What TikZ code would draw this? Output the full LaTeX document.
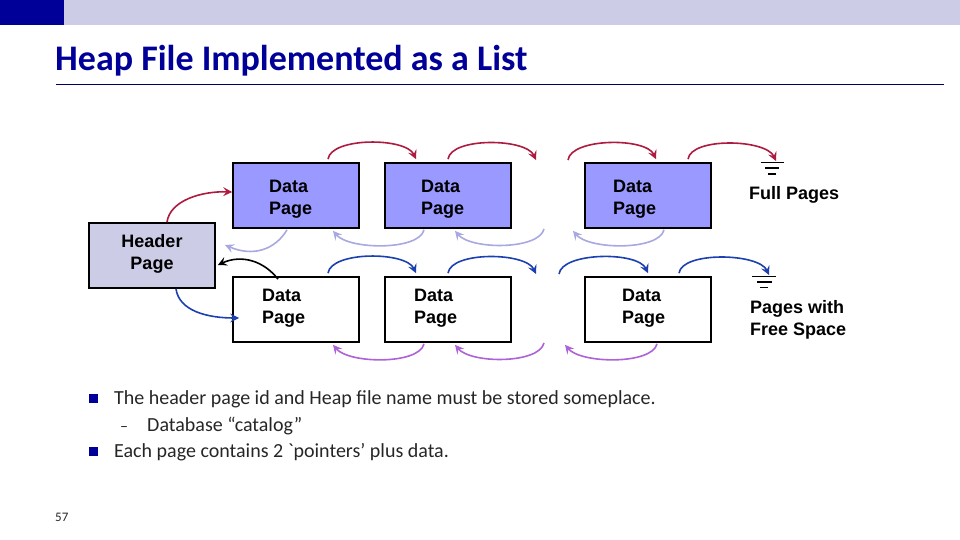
\documentclass[tikz,border=0pt]{standalone}
\usepackage{fontspec}
\setmainfont{Carlito}
\newfontfamily\plainfont{Carlito}
\newfontfamily\arialfont{Liberation Sans}
\usetikzlibrary{arrows.meta,calc}
\definecolor{navy}{HTML}{000099}
\definecolor{barlight}{HTML}{CCCCE6}
\definecolor{fullfill}{HTML}{9999FF}
\definecolor{redarc}{HTML}{AE1A40}
\definecolor{bluearc}{HTML}{1C40B0}
\definecolor{lavarc}{HTML}{A8A8E2}
\definecolor{purarc}{HTML}{AE62D8}
\newcommand{\pushdown}{\rule{0pt}{20.5pt}}
\newcommand{\pushup}[1]{\rule[-#1]{0pt}{1pt}}
\tikzset{
  x=1pt,y=-1pt,
  pagebox/.style={draw=black,line width=1.7pt,minimum height=65pt,inner ysep=0pt,inner xsep=#1,
    text width=126pt-2*#1,align=left,font=\arialfont\bfseries\fontsize{18}{22}\selectfont},
  headbox/.style={draw=black,line width=1.7pt,fill=barlight,minimum width=126pt,minimum height=65pt,
    inner sep=0pt,align=center,font=\arialfont\bfseries\fontsize{18}{22}\selectfont},
  sidetext/.style={inner sep=0pt,align=left,anchor=west,font=\arialfont\bfseries\fontsize{18}{22}\selectfont},
  bodytext/.style={inner sep=0pt,anchor=base west,font=\fontsize{20}{24}\selectfont,text=black!85},
  arc/.style={line width=1.6pt,-{Stealth[length=9pt,width=9pt,inset=3.5pt]}},
  groundline/.style={draw=black,line width=1.5pt},
  bullet/.style={fill=navy,minimum size=9pt,inner sep=0pt},
  hop/.style={to path={.. controls +(3,-22) and +(-10,-22) .. (\tikztotarget)}},
  dip/.style={to path={.. controls +(-5,21) and +(16,19) .. (\tikztotarget)}}
}
\begin{document}
\begin{tikzpicture}
\useasboundingbox (0,0) rectangle (960,540);
\fill[fill=navy] (0,0) rectangle (64,25);
\fill[fill=barlight] (64,0) rectangle (960,25);
\node[inner sep=0pt,anchor=base west,text=navy,font=\bfseries\fontsize{36}{40}\selectfont] (title) at (55,70.5) {Heap File Implemented as a List};
\draw[navy!60!black,line width=0.9pt] (56,84.5) -- (944,84.5);

% pages
\node[pagebox=36pt,fill=fullfill] (d1) at (296,195.5) {\pushdown Data\\Page};
\node[pagebox=36pt,fill=fullfill] (d2) at (448,195.5) {\pushdown Data\\Page};
\node[pagebox=28pt,fill=fullfill] (d3) at (648,195.5) {\pushdown Data\\Page};
\node[pagebox=29pt,fill=white] (f1) at (296,309.5) {Data\\Page\pushup{5.8pt}};
\node[pagebox=29pt,fill=white] (f2) at (448,309.5) {Data\\Page\pushup{5.8pt}};
\node[pagebox=37pt,fill=white] (f3) at (648,309.5) {Data\\Page\pushup{5.8pt}};
\node[headbox] (head) at (152,255.5) {Header\\Page\pushup{7.8pt}};
\node[sidetext] (fulltxt) at (749,195) {Full Pages};
\node[sidetext] (freetxt) at (750,320) {Pages with\\Free Space};

% free ends
\coordinate (gapA) at (536,160);
\coordinate (gapB) at (568,160);
\coordinate (gapC) at (536,274);
\coordinate (gapD) at (559,274);
\coordinate (gapE) at (544,229);
\coordinate (gapF) at (544,343);
\coordinate (headback) at (225,245);
\coordinate (g1) at (776,161);
\coordinate (g2) at (769,275);

% ground symbols
\draw[groundline] (760.5,162.5) -- (783.5,162.5) (765,168) -- (779,168) (768,174) -- (776,174);
\draw[groundline] (752,276.5) -- (776,276.5) (757,282) -- (772,282) (760,287.5) -- (768,287.5);

% red upper arcs
\draw[arc,redarc] ([xshift=32pt,yshift=3pt]d1.north) to[hop] ([xshift=-32pt,yshift=3pt]d2.north);
\draw[arc,redarc] ([yshift=3pt]d2.north) to[hop] (gapA);
\draw[arc,redarc] (gapB) to[hop] ([xshift=8pt,yshift=3pt]d3.north);
\draw[arc,redarc] ([xshift=40pt,yshift=3pt]d3.north) to[hop] (g1);
% blue lower-row arcs
\draw[arc,bluearc] ([xshift=32pt,yshift=3pt]f1.north) to[hop] ([xshift=-32pt,yshift=3pt]f2.north);
\draw[arc,bluearc] ([yshift=3pt]f2.north) to[hop] (gapC);
\draw[arc,bluearc] (gapD) to[hop] ([yshift=3pt]f3.north);
\draw[arc,bluearc] ([xshift=31pt,yshift=3pt]f3.north) to[hop] (g2);
% lavender arcs
\draw[arc,lavarc] ([xshift=-9pt,yshift=-1pt]d1.south) .. controls +(-12,20) and +(28,12) .. (headback);
\draw[arc,lavarc] ([xshift=-24pt,yshift=-1pt]d2.south) to[dip] ([xshift=37pt,yshift=-2pt]d1.south);
\draw[arc,lavarc] (gapE) to[dip] ([xshift=7pt,yshift=-2pt]d2.south);
\draw[arc,lavarc] ([xshift=16pt,yshift=-1pt]d3.south) to[dip] ([xshift=-75pt,yshift=-2pt]d3.south);
% purple arcs
\draw[arc,purarc] ([xshift=-24pt,yshift=-1pt]f2.south) to[dip] ([xshift=37pt,yshift=-2pt]f1.south);
\draw[arc,purarc] (gapF) to[dip] ([xshift=7pt,yshift=-2pt]f2.south);
\draw[arc,purarc] ([xshift=9pt,yshift=-1pt]f3.south) to[dip] ([xshift=-83pt,yshift=-2pt]f3.south);
% header links
\draw[arc,redarc] ([xshift=15pt]head.north) .. controls +(3,-22) and +(-30,-1) .. ([yshift=3.5pt]d1.west);
\draw[arc,bluearc] ([xshift=24pt]head.south) .. controls +(3,22) and +(-32,0) .. ([xshift=7pt,yshift=-8.5pt]f1.west);
\draw[arc,black] ([xshift=-18pt,yshift=-3pt]f1.north) .. controls +(-14,-18) and +(24,-11) .. ([xshift=2pt,yshift=-9.5pt]head.east);

% body text
\node[bullet] (b1) at (93,398) {};
\node[bodytext] (t1) at (114,404) {The header page id and Heap file name must be stored someplace.};
\node[inner sep=0pt,anchor=base west,font=\fontsize{16}{20}\selectfont,text=black!85] (dash) at (120,431) {–};
\node[bodytext] (t2) at (147,431) {Database “catalog”};
\node[bullet] (b2) at (93,451) {};
\node[bodytext] (t3) at (114,457) {Each page contains 2 {\plainfont\char96 }pointers’ plus data.};
\node[inner sep=0pt,anchor=base west,font=\fontsize{13}{15}\selectfont,text=black!85] (pg) at (55,521) {57};
\end{tikzpicture}
\end{document}
